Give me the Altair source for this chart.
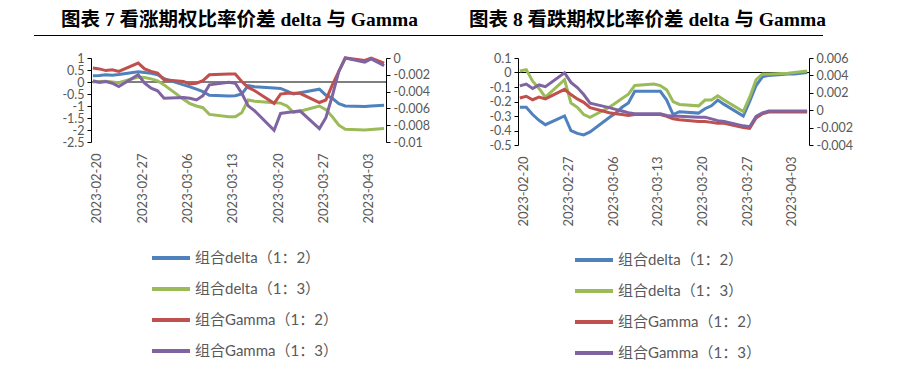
import altair as alt
import pandas as pd

dates = ["2023-02-20", "2023-02-21", "2023-02-22", "2023-02-23", "2023-02-24",
         "2023-02-27", "2023-02-28", "2023-03-01", "2023-03-02", "2023-03-03",
         "2023-03-06", "2023-03-07", "2023-03-08", "2023-03-09", "2023-03-10",
         "2023-03-13", "2023-03-14", "2023-03-15", "2023-03-16", "2023-03-17",
         "2023-03-20", "2023-03-21", "2023-03-22", "2023-03-23", "2023-03-24",
         "2023-03-27", "2023-03-28", "2023-03-29", "2023-03-30", "2023-03-31",
         "2023-04-03", "2023-04-04", "2023-04-06"]

tick_dates = ["2023-02-20", "2023-02-27", "2023-03-06", "2023-03-13",
              "2023-03-20", "2023-03-27", "2023-04-03"]

series = ["组合delta（1：2）", "组合delta（1：3）", "组合Gamma（1：2）", "组合Gamma（1：3）"]
colors = ["#4F81BD", "#9BBB59", "#C0504D", "#8064A2"]

# ---- 图表7 看涨期权比率价差 ----
call_delta_12 = [0.26, 0.27, 0.30, 0.28, 0.31,
                 0.43, 0.40, 0.36, 0.30, 0.14,
                 -0.12, -0.20, -0.30, -0.40, -0.55,
                 -0.58, -0.57, -0.50, -0.15, -0.20,
                 -0.25, -0.27, -0.38, -0.50, -0.45,
                 -0.30, -0.55, -0.68, -0.90, -1.00,
                 -1.02, -1.00, -0.97]
call_delta_13 = [0.00, 0.02, 0.03, 0.00, -0.03,
                 0.21, 0.19, 0.13, 0.05, -0.12,
                 -0.72, -0.90, -1.00, -1.07, -1.35,
                 -1.45, -1.45, -1.28, -0.75, -0.80,
                 -0.86, -0.88, -1.00, -1.27, -1.22,
                 -1.00, -1.15, -1.45, -1.80, -1.97,
                 -2.00, -1.98, -1.94]
call_gamma_12 = [-0.0012, -0.0013, -0.0015, -0.0014, -0.0016,
                 -0.0006, -0.0013, -0.0016, -0.0018, -0.0026,
                 -0.0028, -0.0031, -0.0030, -0.0027, -0.0020,
                 -0.0019, -0.0019, -0.0028, -0.0035, -0.0039,
                 -0.0054, -0.0043, -0.0042, -0.0042, -0.0042,
                 -0.0053, -0.0050, -0.0032, -0.0016, 0.0000,
                 -0.0003, 0.0000, -0.0006]
call_gamma_13 = [-0.0027, -0.0029, -0.0028, -0.0030, -0.0034,
                 -0.0020, -0.0030, -0.0036, -0.0039, -0.0048,
                 -0.0047, -0.0048, -0.0050, -0.0045, -0.0032,
                 -0.0029, -0.0030, -0.0042, -0.0057, -0.0063,
                 -0.0086, -0.0066, -0.0065, -0.0064, -0.0063,
                 -0.0084, -0.0071, -0.0045, -0.0016, 0.0000,
                 -0.0005, -0.0001, -0.0009]

# ---- 图表8 看跌期权比率价差 ----
put_delta_12 = [-0.24, -0.24, -0.29, -0.33, -0.36,
                -0.30, -0.40, -0.42, -0.43, -0.41,
                -0.31, -0.28, -0.24, -0.21, -0.13,
                -0.13, -0.13, -0.19, -0.29, -0.27,
                -0.28, -0.25, -0.23, -0.19, -0.22,
                -0.30, -0.20, -0.09, -0.03, -0.02,
                -0.01, -0.01, 0.00]
put_delta_13 = [0.01, 0.02, -0.06, -0.11, -0.17,
                -0.05, -0.21, -0.24, -0.29, -0.31,
                -0.24, -0.21, -0.18, -0.15, -0.09,
                -0.08, -0.09, -0.12, -0.20, -0.22,
                -0.23, -0.19, -0.19, -0.16, -0.19,
                -0.27, -0.17, -0.05, -0.01, -0.01,
                -0.005, 0.00, 0.01]
put_gamma_12 = [0.0014, 0.0016, 0.0012, 0.0015, 0.0013,
                0.0024, 0.0018, 0.0013, 0.0009, 0.0003,
                -0.0003, -0.0004, -0.0005, -0.0006, -0.0005,
                -0.0005, -0.0005, -0.0007, -0.0010, -0.0011,
                -0.0013, -0.0013, -0.0014, -0.0015, -0.0015,
                -0.0020, -0.0021, -0.0009, -0.0004, -0.0002,
                -0.0002, -0.0002, -0.0002]
put_gamma_13 = [0.0028, 0.0030, 0.0025, 0.0029, 0.0027,
                0.0043, 0.0032, 0.0026, 0.0018, 0.0008,
                0.0003, 0.0001, -0.0001, -0.0003, -0.0004,
                -0.0004, -0.0004, -0.0006, -0.0007, -0.0007,
                -0.0008, -0.0008, -0.0010, -0.0012, -0.0013,
                -0.0018, -0.0019, -0.0007, -0.0003, -0.0001,
                -0.0001, -0.0001, -0.0001]

LABEL_FONT = "Lato, Noto Sans CJK SC"
LABEL_COLOR = "#595959"
TITLE_FONT = "Liberation Serif, Noto Sans CJK SC"


def dt(s, hours=0):
    y, m, d = (int(p) for p in s.split("-"))
    return alt.DateTime(year=y, month=m, date=d, hours=hours, utc=True)


def panel(title, d12, d13, g12, g13, ldom, lticks, rdom, rticks, w, h,
          lx, ly, tx, ty, xpad, extra=None):
    df = pd.DataFrame({"date": dates, series[0]: d12, series[1]: d13,
                       series[2]: g12, series[3]: g13})
    long = df.melt(id_vars="date", var_name="series", value_name="value")
    dfd = long[long["series"].isin(series[:2])]
    dfg = long[long["series"].isin(series[2:])]

    x = alt.X("date:T",
              scale=alt.Scale(type="utc",
                              domain=[dt("2023-02-19", 17), dt("2023-04-06", 7)]),
              axis=alt.Axis(values=[dt(t) for t in tick_dates], format="%Y-%m-%d",
                            labelAngle=-90, domain=False, ticks=False, grid=False,
                            labelPadding=xpad, labelOffset=4, labelFont=LABEL_FONT,
                            labelFontSize=13, labelColor=LABEL_COLOR, title=None,
                            labelOverlap=False))
    axis_common = dict(grid=False, domainColor="black", tickColor="black",
                       tickSize=4, labelFont=LABEL_FONT, labelFontSize=12.5,
                       labelColor=LABEL_COLOR, title=None, labelPadding=3,
                       labelOverlap=False, labelBound=False, labelFlush=False,
                       labelExpr="datum.value + ''")
    yl = alt.Y("value:Q", scale=alt.Scale(domain=ldom, nice=False, zero=False),
               axis=alt.Axis(values=lticks, orient="left", **axis_common))
    yr = alt.Y("value:Q", scale=alt.Scale(domain=rdom, nice=False, zero=False),
               axis=alt.Axis(values=rticks, orient="right", **axis_common))
    color = alt.Color("series:N",
                      scale=alt.Scale(domain=series, range=colors),
                      legend=alt.Legend(orient="none", legendX=lx, legendY=ly,
                                        direction="vertical", title=None,
                                        symbolType="stroke", symbolSize=1444,
                                        symbolStrokeWidth=4, labelFontSize=15,
                                        labelFont=LABEL_FONT, labelColor=LABEL_COLOR,
                                        labelLimit=400, labelOffset=3, rowPadding=2))

    zero = alt.Chart(pd.DataFrame({"value": [0.0]})).mark_rule(
        color="black", strokeWidth=1).encode(y=yl)
    ld = alt.Chart(dfd).mark_line(strokeWidth=3).encode(
        x=x, y=yl, color=color, order="date:T")
    lg = alt.Chart(dfg).mark_line(strokeWidth=3).encode(
        x=x, y=yr, color=color, order="date:T")
    ttl = alt.Chart(pd.DataFrame({"t": [title]})).mark_text(
        font=TITLE_FONT, fontSize=19.5, fontWeight="bold", color="black",
        align="left", baseline="middle").encode(
        x=alt.value(tx), y=alt.value(ty), text="t:N")
    layers = [alt.layer(zero, ld), lg, ttl]
    if extra is not None:
        layers.append(extra)
    return alt.layer(*layers).resolve_scale(y="independent").properties(
        width=w, height=h)


# thin black separator line under the two figure titles
header_line = alt.Chart(pd.DataFrame({"k": [0]})).mark_rule(
    color="black", strokeWidth=1).encode(
    x=alt.value(-57), x2=alt.value(732), y=alt.value(-22.5))

left = panel("图表 7 看涨期权比率价差 delta 与 Gamma",
             call_delta_12, call_delta_13, call_gamma_12, call_gamma_13,
             [-2.5, 1], [1, 0.5, 0, -0.5, -1, -1.5, -2, -2.5],
             [-0.01, 0], [0, -0.002, -0.004, -0.006, -0.008, -0.01],
             295, 84, 59, 179, -30, -38, 11, header_line)
right = panel("图表 8 看跌期权比率价差 delta 与 Gamma",
              put_delta_12, put_delta_13, put_gamma_12, put_gamma_13,
              [-0.5, 0.1], [0.1, 0, -0.1, -0.2, -0.3, -0.4, -0.5],
              [-0.004, 0.006], [0.006, 0.004, 0.002, 0, -0.002, -0.004],
              291, 87, 55, 181, -49, -38, 11)

chart = alt.hconcat(left, right, spacing=132, bounds="flush").resolve_scale(
    color="independent").resolve_legend(color="independent").properties(
    padding={"left": 25, "top": 2, "right": 5, "bottom": 0}
).configure_view(stroke=None)

chart.save("out.html", embed_options={"renderer": "svg", "actions": False})
